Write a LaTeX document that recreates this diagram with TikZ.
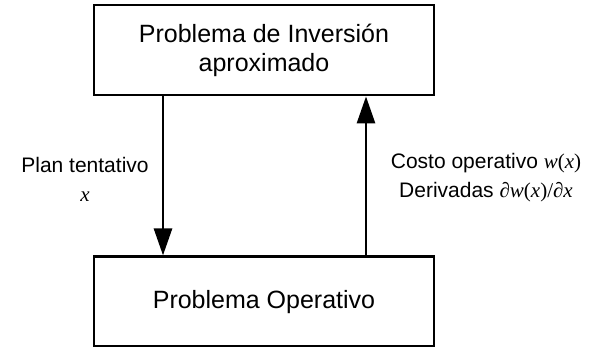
\documentclass[tikz,border=0pt]{standalone}
\usepackage{fontspec}
\setmainfont{Liberation Sans}
\newfontfamily\timesfont{Liberation Serif}
\usetikzlibrary{positioning,calc,arrows.meta}

\newcommand{\mvar}[1]{{\timesfont\itshape #1}}

\begin{document}
\begin{tikzpicture}[
  x=1pt,y=-1pt,
  every node/.style={font=\fontsize{21}{29}\selectfont},
  problem-box/.style={draw,line width=2.8pt,minimum width=340pt,minimum height=90pt,
    inner sep=0pt,align=center,font=\fontsize{25}{29}\selectfont},
  flow-line/.style={draw,line width=2.8pt,-{Triangle[length=27pt,width=18pt]}},
  ]
  \useasboundingbox (0,0) rectangle (589,346);

  \node [problem-box] (inversion-box) at (264,50) {Problema de Inversión\\aproximado};
  \node [problem-box,below=159pt of inversion-box] (operativo-box) {Problema Operativo};

  % plan tentativo hacia abajo, costos hacia arriba
  \draw [flow-line] ([xshift=-101pt]inversion-box.south) -- ([xshift=-101pt]operativo-box.north);
  \draw [flow-line] ([xshift=102pt]operativo-box.north) -- ([xshift=102pt]inversion-box.south);

  \node [align=center] (plan-text) at (85,179) {Plan tentativo\\\mvar{x}};
  \node [align=center] (costo-text) at (486,178)
    {Costo operativo \mvar{w}{\timesfont(\mvar{x})}\\
     Derivadas {\timesfont ∂\mvar{w}(\mvar{x})/∂\mvar{x}}};

\end{tikzpicture}
\end{document}
